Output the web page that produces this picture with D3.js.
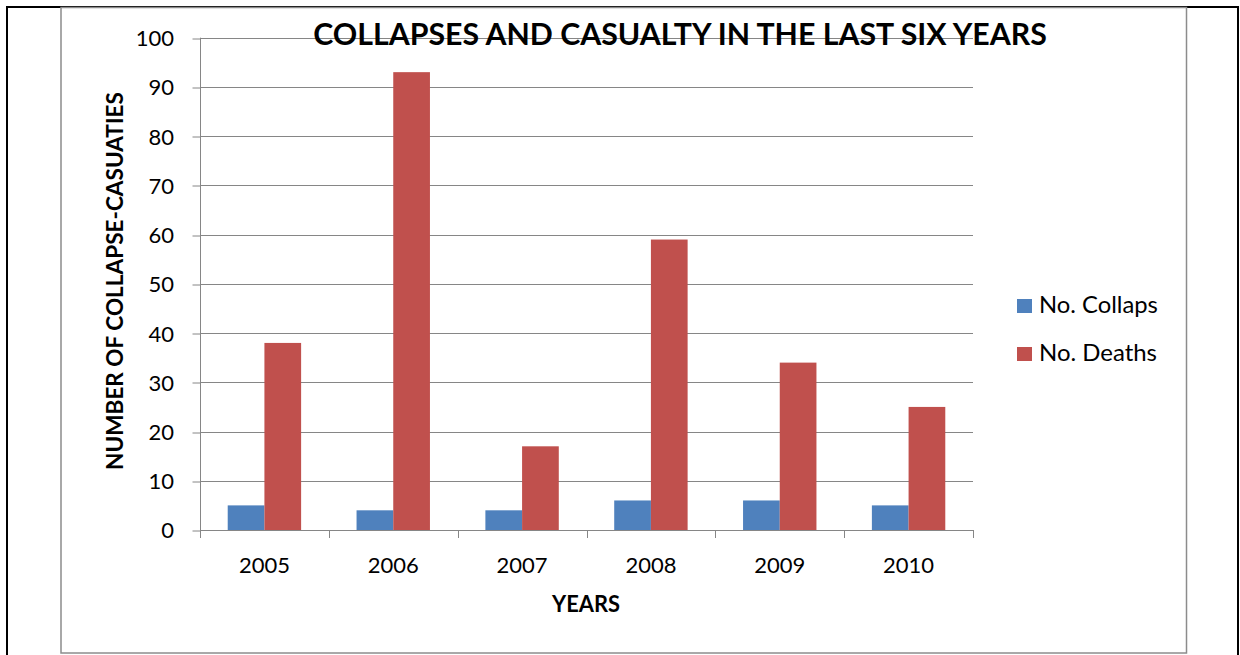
<!DOCTYPE html>
<html><head><meta charset="utf-8">
<script src="https://cdn.jsdelivr.net/npm/d3@7"></script>
<style>body{margin:0;background:#fff}svg{display:block}text{font-family:Lato,"Open Sans",sans-serif}</style>
</head><body><svg id="c" width="1240" height="655"></svg>
<script>
const categories = ["2005","2006","2007","2008","2009","2010"];
const seriesNames = ["No. Collaps","No. Deaths"];
const collapses = [5,4,4,6,6,5];
const deaths = [38,93,17,59,34,25];
const yTicks = [0,10,20,30,40,50,60,70,80,90,100];
const colors = ["#4F81BD","#C0504D"];
const title = "COLLAPSES AND CASUALTY IN THE LAST SIX YEARS";
const yTitle = "NUMBER OF COLLAPSE-CASUATIES";
const xTitle = "YEARS";

(function(){
const svg = d3.select("#c");
svg.append("path").attr("d","M7,655 V7 H1238 V655").attr("fill","none").attr("stroke","#000").attr("stroke-width",2);
svg.append("rect").attr("x",61).attr("y",7.5).attr("width",1125.5).attr("height",645.5)
  .attr("fill","#fff").attr("stroke","#8c8c8c").attr("stroke-width",1.5);

const pL=200, pR=973, pT=37.7, pB=530;
const x = d3.scaleBand().domain(categories).range([pL,pR]);
const y = d3.scaleLinear().domain([0,100]).range([pB,pT]);

svg.append("g").selectAll("line").data(yTicks.slice(1)).join("line")
  .attr("x1",pL).attr("x2",pR).attr("y1",d=>Math.round(y(d))+0.5).attr("y2",d=>Math.round(y(d))+0.5)
  .attr("stroke","#868686").attr("stroke-width",1);

const ya = svg.append("g").attr("transform",`translate(${pL+0.5},0)`)
  .call(d3.axisLeft(y).tickValues(yTicks).tickSize(8).tickPadding(10));
ya.select(".domain").attr("stroke","#868686").attr("d",`M0,${pT}V${pB}`);
ya.selectAll(".tick line").attr("stroke","#868686").attr("transform",d=>`translate(0,${Math.round(y(d))+0.5-y(d)})`);
ya.selectAll("text").attr("font-size",22).attr("fill","#000").attr("dy","0.36em").attr("x",-26.5);

const data = categories.map((c,i)=>({c, vals:[collapses[i],deaths[i]]}));
const g = svg.append("g").selectAll("g").data(data).join("g").attr("transform",d=>`translate(${x(d.c)},0)`);
const bw = 36.7;
g.selectAll("rect").data(d=>d.vals.map((v,j)=>({v,j}))).join("rect")
  .attr("x",d=>x.bandwidth()/2 - bw + d.j*bw).attr("width",bw)
  .attr("y",d=>y(d.v)).attr("height",d=>pB-y(d.v)).attr("fill",d=>colors[d.j]);

const xa = svg.append("g").attr("transform",`translate(0,${Math.round(pB)+0.5})`)
  .call(d3.axisBottom(x).tickSize(0).tickPadding(0));
xa.select(".domain").attr("stroke","#868686").attr("d",`M${pL},0H${pR}`);
xa.selectAll("text").attr("font-size",22).attr("fill","#000").attr("dy",null).attr("y",42.5);
svg.append("g").selectAll("line").data(categories.concat(["end"])).join("line")
  .attr("x1",(d,i)=>Math.round(pL+i*x.bandwidth())+0.5).attr("x2",(d,i)=>Math.round(pL+i*x.bandwidth())+0.5)
  .attr("y1",pB).attr("y2",pB+8).attr("stroke","#868686");

function fit(t,w){const n=t.node();const l=n.getComputedTextLength();const fs=+t.attr("font-size");t.attr("font-size",fs*w/l);}
const tt = svg.append("text").attr("x",680).attr("y",45).attr("text-anchor","middle")
  .attr("font-size",26).attr("font-weight","bold").text(title);
fit(tt,734);
const yt = svg.append("text").attr("transform","translate(123,281) rotate(-90)").attr("text-anchor","middle")
  .attr("font-size",19).attr("font-weight","bold").text(yTitle);
fit(yt,378);
const xt = svg.append("text").attr("x",586).attr("y",612).attr("text-anchor","middle")
  .attr("font-size",19).attr("font-weight","bold").text(xTitle);
fit(xt,68);

const lg = svg.append("g").selectAll("g").data(seriesNames).join("g")
  .attr("transform",(d,i)=>`translate(1017,${299+i*48})`);
lg.append("rect").attr("width",15).attr("height",14).attr("fill",(d,i)=>colors[i]);
lg.append("text").attr("x",22).attr("y",14).attr("font-size",20).attr("fill","#000").text(d=>d)
  .each(function(d,i){fit(d3.select(this), i===0?119:118);});
})();
</script></body></html>
